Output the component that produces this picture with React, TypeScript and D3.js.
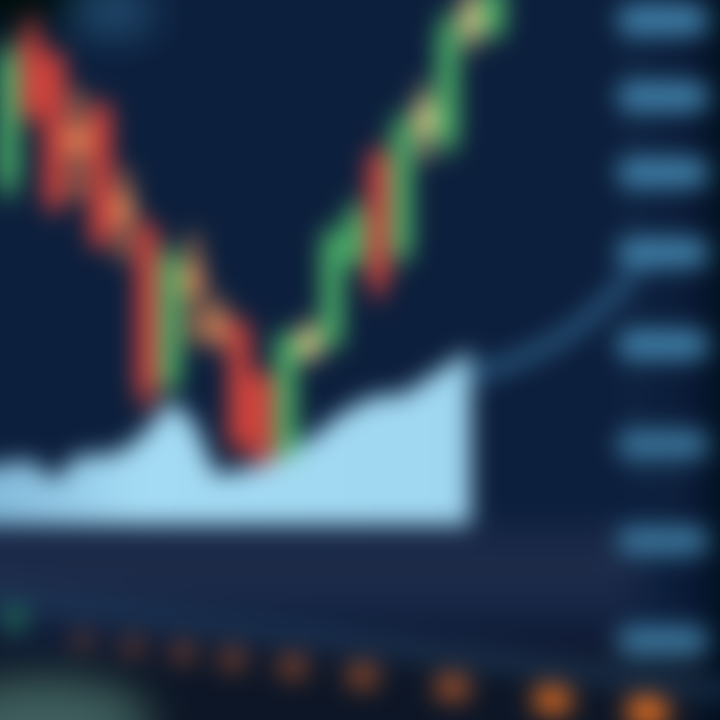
import { useEffect, useRef } from 'react';
import * as d3 from 'd3';

const WIDTH = 720;
const HEIGHT = 720;
const PAD = 40;

// candles, left to right (price units)
const candleOpen = [1255, 1290, 1285, 1267.5, 1272.5, 1250, 1242.5, 1205, 1232.5, 1221, 1217.5, 1205, 1187.5, 1213.75, 1215, 1236, 1260, 1237.5, 1268.75, 1265, 1295, 1292.5];
const candleClose = [1285, 1272.5, 1250, 1263.75, 1240, 1246.25, 1202.5, 1235, 1228.75, 1218.75, 1190, 1186.25, 1215, 1216.25, 1240, 1246, 1230, 1267.5, 1272.5, 1292.5, 1297.5, 1302];
const candleHigh = [1290, 1296, 1287.5, 1277.5, 1275, 1257.5, 1245, 1238.75, 1241.25, 1226.25, 1221.25, 1207.5, 1217.5, 1220, 1243.75, 1250, 1263.75, 1272.5, 1278.75, 1297.5, 1305, 1305];
const candleLow = [1250, 1268.75, 1246.25, 1250, 1237.5, 1235, 1197.5, 1201.25, 1213.75, 1212.5, 1186.25, 1183.75, 1185, 1210, 1212.5, 1232.5, 1225, 1233.75, 1260, 1261.25, 1287.5, 1290];

// volume under the first 21 candles
const volume = [55, 65, 45, 70, 70, 75, 95, 125, 105, 50, 55, 60, 75, 85, 105, 120, 130, 130, 145, 160, 175];

// moving-average style curve to the right of the candles
const trendIdx = [20.2, 22.1, 24.3, 26.0, 27.3];
const trendVal = [1206.25, 1210, 1216.25, 1225, 1233.75];

// price axis (right) and time markers (bottom, seen in perspective)
const priceTicks = [1295, 1276, 1257, 1237, 1214, 1189, 1165, 1140];
const timeTicks = [0, 1, 2, 3, 4.2, 5.6, 7.4, 9.4, 11.3];

export default function App() {
  const svgRef = useRef<SVGSVGElement>(null);

  useEffect(() => {
    if (!svgRef.current) return;
    const svg = d3.select(svgRef.current);
    svg.selectAll('*').remove();

    const defs = svg.append('defs');
    defs
      .append('filter')
      .attr('id', 'haze')
      .attr('filterUnits', 'userSpaceOnUse')
      .attr('x', -200)
      .attr('y', -200)
      .attr('width', WIDTH + 400)
      .attr('height', HEIGHT + 400)
      .append('feGaussianBlur')
      .attr('stdDeviation', 18);

    const volGrad = defs
      .append('linearGradient')
      .attr('id', 'volGrad')
      .attr('x1', '0%')
      .attr('x2', '100%')
      .attr('y1', '0%')
      .attr('y2', '0%');
    volGrad.append('stop').attr('offset', '0%').attr('stop-color', '#7cb2d4');
    volGrad.append('stop').attr('offset', '35%').attr('stop-color', '#a4dbf4');
    volGrad.append('stop').attr('offset', '100%').attr('stop-color', '#9fd6f0');

    // background
    svg
      .append('rect')
      .attr('x', -PAD)
      .attr('y', -PAD)
      .attr('width', WIDTH + PAD * 2)
      .attr('height', HEIGHT + PAD * 2)
      .attr('fill', '#0c1f3c');
    const bg = svg.append('g').attr('filter', 'url(#haze)');
    bg.append('rect').attr('x', -60).attr('y', 530).attr('width', 700).attr('height', 80).attr('fill', '#1b2a4a');
    bg.append('rect').attr('x', -60).attr('y', 645).attr('width', 840).attr('height', 120).attr('fill', '#0a1628');
    bg.append('ellipse').attr('cx', 10).attr('cy', -10).attr('rx', 90).attr('ry', 45).attr('fill', '#03080f');
    bg.append('ellipse').attr('cx', 115).attr('cy', 12).attr('rx', 40).attr('ry', 22).attr('fill', '#2d6088').attr('opacity', 0.8);
    bg.append('ellipse').attr('cx', 45).attr('cy', 725).attr('rx', 100).attr('ry', 40).attr('fill', '#3f615e');
    bg.append('rect').attr('x', 706).attr('y', -40).attr('width', 80).attr('height', 800).attr('fill', '#050d1a');

    // scales
    const xLin = d3.scaleLinear().domain([0, 21]).range([8, 494]);
    const step = xLin(1) - xLin(0);
    const y = d3.scaleLinear().domain([1180, 1300]).range([480, 0]);
    const v = d3.scaleLinear().domain([0, 200]).range([525, 325]);

    // volume area
    const volArea = d3
      .area<number>()
      .x((_, i) => (i === 0 ? -PAD : xLin(i)))
      .y0(v(0))
      .y1((d) => v(d))
      .curve(d3.curveLinear);
    svg.append('path').datum(volume).attr('d', volArea).attr('fill', 'url(#volGrad)');

    // candles
    const candles = candleOpen.map((o, i) => ({
      i,
      open: o,
      close: candleClose[i],
      high: candleHigh[i],
      low: candleLow[i],
    }));
    const colorOf = (d: (typeof candles)[0]) => {
      const body = Math.abs(d.close - d.open);
      if (body < 6) return d.close >= d.open ? '#f0d88a' : '#f0945a';
      return d.close > d.open ? '#50bb6c' : '#e2463c';
    };
    const cg = svg.append('g');
    const bodyW = step * 0.9;
    cg.selectAll('line.wick')
      .data(candles)
      .enter()
      .append('line')
      .attr('class', 'wick')
      .attr('x1', (d) => xLin(d.i))
      .attr('x2', (d) => xLin(d.i))
      .attr('y1', (d) => y(d.high))
      .attr('y2', (d) => y(d.low))
      .attr('stroke', (d) => colorOf(d))
      .attr('stroke-width', 9);
    cg.selectAll('rect.body')
      .data(candles)
      .enter()
      .append('rect')
      .attr('class', 'body')
      .attr('x', (d) => xLin(d.i) - bodyW / 2)
      .attr('width', bodyW)
      .attr('y', (d) => y(Math.max(d.open, d.close)) - 5)
      .attr('height', (d) => Math.max(30, Math.abs(y(d.open) - y(d.close)) + 10))
      .attr('rx', 6)
      .attr('fill', (d) => colorOf(d));

    // trend curve
    const trend = trendIdx.map((t, i) => ({ t, val: trendVal[i] }));
    svg
      .append('path')
      .datum(trend)
      .attr(
        'd',
        d3
          .line<{ t: number; val: number }>()
          .x((d) => xLin(d.t))
          .y((d) => y(d.val))
          .curve(d3.curveBasis)
      )
      .attr('fill', 'none')
      .attr('stroke', '#2e5f88')
      .attr('stroke-width', 14)
      .attr('stroke-linecap', 'round');

    // right price axis: blurred labels read as bars
    const axis = d3
      .axisRight(y)
      .tickValues(priceTicks)
      .tickSize(62)
      .tickFormat(() => '');
    const ag = svg.append('g').attr('transform', 'translate(632,0)').call(axis);
    ag.select('.domain').attr('stroke', '#16304e').attr('stroke-width', 6);
    ag.selectAll('.tick line')
      .attr('stroke', (_, i) => (i < 5 ? '#3f7ea6' : '#3a7398'))
      .attr('stroke-width', 30)
      .attr('stroke-linecap', 'round');

    // bottom time markers, tilted
    const tx = d3.scaleLinear().domain([0, 11.3]).range([0, 569]);
    const bt = svg.append('g').attr('transform', 'translate(83,640) rotate(7.3)');
    bt.append('rect')
      .attr('x', -140)
      .attr('y', -45)
      .attr('width', 800)
      .attr('height', 26)
      .attr('fill', '#1f3d5e')
      .attr('opacity', 0.5);
    bt.append('ellipse')
      .attr('cx', tx(-1.4))
      .attr('cy', -12)
      .attr('rx', 12)
      .attr('ry', 14)
      .attr('fill', '#1f6a55');
    bt.selectAll('rect.mark')
      .data(timeTicks)
      .enter()
      .append('rect')
      .attr('class', 'mark')
      .attr('x', (d) => tx(d) - 11 - d * 0.8)
      .attr('y', (d) => -10 - d * 0.5)
      .attr('width', (d) => 22 + d * 1.6)
      .attr('height', (d) => 20 + d)
      .attr('rx', 6)
      .attr('fill', (d) => (d > 8 ? '#d86a22' : '#b65a2c'))
      .attr('opacity', (d) => 0.4 + d * 0.055);
  }, []);

  return (
    <div
      style={{
        position: 'fixed',
        left: 0,
        top: 0,
        width: WIDTH,
        height: HEIGHT,
        overflow: 'hidden',
        background: '#0c1f3c',
      }}
    >
      <svg
        ref={svgRef}
        width={WIDTH + PAD * 2}
        height={HEIGHT + PAD * 2}
        viewBox={`${-PAD} ${-PAD} ${WIDTH + PAD * 2} ${HEIGHT + PAD * 2}`}
        style={{ display: 'block', position: 'absolute', left: -PAD, top: -PAD, filter: 'blur(12px)' }}
      />
    </div>
  );
}
